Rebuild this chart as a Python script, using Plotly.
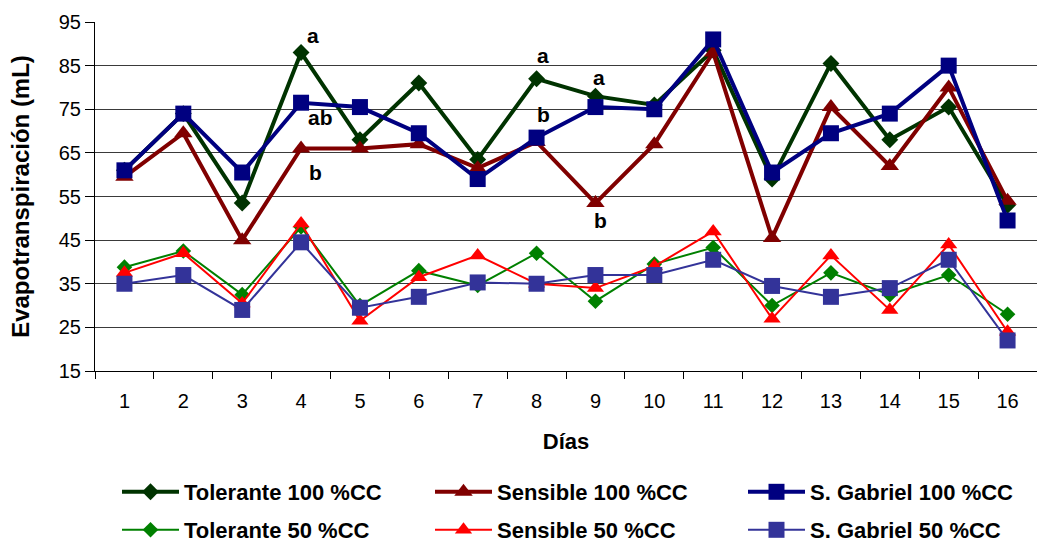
import plotly.graph_objects as go

dias = [str(i) for i in range(1, 17)]

tolerante_100 = [61, 74, 53.5, 88, 68, 81, 63.5, 82, 78, 76, 88.5, 59, 85.5, 68, 75.5, 53]
sensible_100 = [59.5, 69.5, 45, 66, 66, 67, 61.5, 67.5, 53.5, 67, 88, 45.5, 75.5, 62, 80, 54]
gabriel_100 = [61, 74, 60.5, 76.5, 75.5, 69.5, 59, 68.5, 75.5, 75, 91, 60.5, 69.5, 74, 85, 49.5]
tolerante_50 = [38.8, 42.5, 32.5, 48, 30, 38, 34.6, 42, 31, 39.5, 43.3, 30, 37.5, 32.5, 37, 28]
sensible_50 = [37.5, 42, 30.5, 48.8, 26.5, 36.5, 41.5, 35, 34, 39, 47, 27, 41.5, 29, 44, 24]
gabriel_50 = [35, 37, 29, 44.5, 29.5, 32, 35.3, 35, 37, 37, 40.5, 34.5, 32, 34, 40.5, 22]

series_names = ["Tolerante 100 %CC", "Sensible 100 %CC", "S. Gabriel 100 %CC",
                "Tolerante 50 %CC", "Sensible 50 %CC", "S. Gabriel 50 %CC"]
series_values = [tolerante_100, sensible_100, gabriel_100, tolerante_50, sensible_50, gabriel_50]
colors = ["#003300", "#800000", "#000080", "#008000", "#FF0000", "#333399"]
symbols = ["diamond", "triangle-up", "square", "diamond", "triangle-up", "square"]
line_widths = [4, 4, 4, 2, 2, 2]
marker_sizes = [13, 16, 16, 12, 15, 16]
legend_ids = ["legend", "legend", "legend", "legend2", "legend2", "legend2"]

# significance letters: (day, y, text, xshift)
letter_days = ["4", "4", "4", "8", "8", "9", "9"]
letter_y = [92, 73.2, 60.4, 87.4, 73.7, 82.2, 49.6]
letter_text = ["a", "ab", "b", "a", "b", "a", "b"]
letter_shift = [12, 19, 14, 6, 7, 4, 5]

fig = go.Figure()
for name, vals, c, s, lw, ms, lg in zip(series_names, series_values, colors, symbols,
                                        line_widths, marker_sizes, legend_ids):
    fig.add_trace(go.Scatter(
        x=dias, y=vals, name=name, mode="lines+markers",
        line=dict(color=c, width=lw),
        marker=dict(symbol=s, size=ms, color=c, line=dict(width=0)),
        legend=lg,
    ))

for d, yv, t, sh in zip(letter_days, letter_y, letter_text, letter_shift):
    fig.add_annotation(x=dias.index(d), y=yv, text=t, showarrow=False, xshift=sh,
                       font=dict(family="Liberation Sans, Arial", size=21, color="black", weight="bold"))

legend_common = dict(
    orientation="h", xref="container", yref="container",
    xanchor="left", yanchor="middle",
    entrywidth=241, entrywidthmode="pixels", itemwidth=57,
    font=dict(family="Liberation Sans, Arial", size=22, color="black", weight="bold"),
    bgcolor="rgba(0,0,0,0)",
)

fig.update_layout(
    width=1037, height=544,
    margin=dict(l=95, r=0, t=22, b=173),
    paper_bgcolor="white", plot_bgcolor="white",
    font=dict(family="Liberation Sans, Arial", color="black", size=20),
    showlegend=True,
    legend=dict(x=117 / 1037, y=1 - 492 / 544, **legend_common),
    legend2=dict(x=117 / 1037, y=1 - 530 / 544, **legend_common),
    xaxis=dict(
        type="category", range=[-0.5, 15.5], tickson="boundaries", ticks="outside", ticklen=7,
        tickcolor="black", tickwidth=1, showline=True, linecolor="black", linewidth=1,
        showgrid=False, tickfont=dict(size=20), ticklabelstandoff=12,
        title=dict(text="Días", font=dict(size=22, weight="bold"), standoff=22),
    ),
    yaxis=dict(
        range=[15, 95], tickvals=[15, 25, 35, 45, 55, 65, 75, 85, 95],
        ticks="outside", ticklen=9, tickcolor="black", tickwidth=1,
        showline=True, linecolor="black", linewidth=1,
        showgrid=True, gridcolor="#3a3a3a", gridwidth=1, zeroline=False,
        tickfont=dict(size=20),
        title=dict(text="Evapotranspiración (mL)", font=dict(size=24, weight="bold"), standoff=22),
    ),
)

fig.write_html("out.html")
